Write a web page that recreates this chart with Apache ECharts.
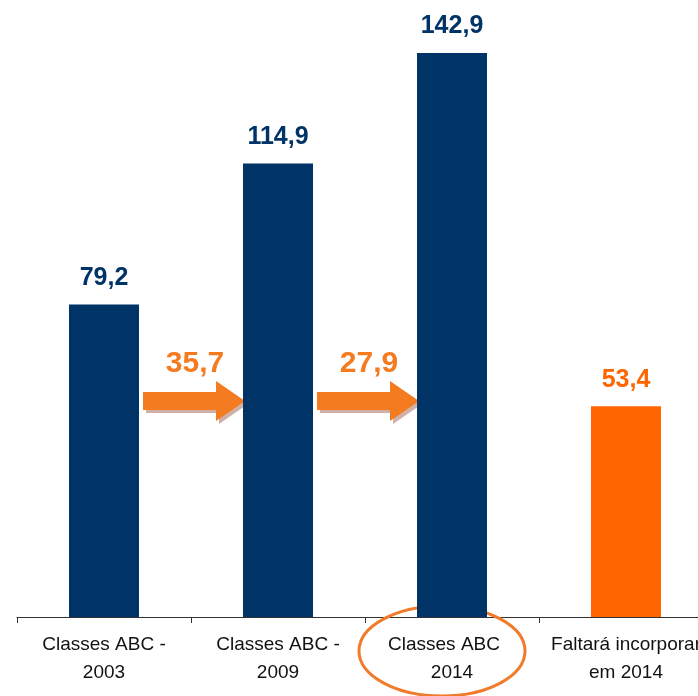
<!DOCTYPE html>
<html>
<head>
<meta charset="utf-8">
<script src="https://cdn.jsdelivr.net/npm/echarts@6/dist/echarts.min.js"></script>
<style>
  html, body { margin: 0; padding: 0; background: #fff; overflow: hidden; }
  /* o gráfico original continua além da borda direita da imagem */
  #chart { width: 713px; height: 696px; }
</style>
</head>
<body>
<div id="chart"></div>
<script>
// categorias e valores (milhões de pessoas)
var categories = ['Classes ABC -\n2003', 'Classes ABC -\n2009', 'Classes ABC -\n2014', 'Faltará incorporar\nem 2014']
var values = [79.2, 114.9, 142.9, 53.4]
var barColors = ['#003366', '#003366', '#003366', '#FF6600']
// acréscimos entre as barras (de i para i+1)
var gainFrom = [0, 1]
var gains = [35.7, 27.9]
// categoria destacada com a elipse
var highlighted = [2]

var ARROW = '#F47B20'

function fmt(v) {
  return String(v.toFixed(1)).replace('.', ',')
}

var chart = echarts.init(document.getElementById('chart'))

var option = {
  animation: false,
  grid: { left: 17, right: 0, top: 25, bottom: 79 },
  xAxis: {
    type: 'category',
    data: categories,
    axisLine: { lineStyle: { color: '#333', width: 1 } },
    axisTick: { show: true, length: 6, lineStyle: { color: '#333', width: 1 } },
    axisLabel: {
      interval: 0,
      margin: 14,
      color: '#111',
      fontFamily: 'Liberation Sans, Arial, sans-serif',
      fontSize: 19,
      lineHeight: 28,
      formatter: function (value, idx) {
        if (idx === 2) {
          // o traço fica escondido atrás da elipse no original
          var lines = value.split('\n')
          return '{cut|' + lines[0].replace(' -', '') + '}\n' + lines[1]
        }
        return value
      },
      rich: {
        cut: {
          fontFamily: 'Liberation Sans, Arial, sans-serif',
          fontSize: 19,
          lineHeight: 28,
          color: '#111',
          padding: [0, 16, 0, 0]
        }
      }
    }
  },
  yAxis: {
    type: 'value',
    min: 0,
    max: 150,
    show: false,
    splitLine: { show: false }
  },
  series: [
    {
      name: 'valores',
      type: 'bar',
      barWidth: 70,
      data: values.map(function (v, i) {
        return {
          value: v,
          itemStyle: { color: barColors[i] },
          label: { color: barColors[i] }
        }
      }),
      label: {
        show: true,
        position: 'top',
        distance: 14,
        fontFamily: 'Liberation Sans, Arial, sans-serif',
        fontWeight: 'bold',
        fontSize: 25,
        formatter: function (p) { return fmt(p.value) }
      }
    },
    {
      // setas laranja com o acréscimo
      name: 'acrescimo',
      type: 'custom',
      data: gainFrom.map(function (f, i) { return [f, gains[i]] }),
      renderItem: function (params, api) {
        var i = api.value(0)
        var gain = api.value(1)
        var c0 = api.coord([i, 0])
        var c1 = api.coord([i + 1, 0])
        var x0 = c0[0] + 39
        var x1 = c1[0] - 33
        var y = c0[1] - 216
        var headLen = 29
        var sh = 9
        var hh = 20
        var xh = x1 - headLen
        var pts = [
          [x0, y - sh], [xh, y - sh], [xh, y - hh], [x1, y],
          [xh, y + hh], [xh, y + sh], [x0, y + sh]
        ]
        return {
          type: 'group',
          children: [
            {
              type: 'polygon',
              shape: { points: pts.map(function (p) { return [p[0] + 3, p[1] + 3] }) },
              style: { fill: 'rgba(150,80,60,0.45)' }
            },
            {
              type: 'polygon',
              shape: { points: pts },
              style: { fill: ARROW }
            },
            {
              type: 'text',
              style: {
                text: fmt(gain),
                x: (x0 + x1) / 2 + 1,
                y: y - 37,
                align: 'center',
                verticalAlign: 'middle',
                fill: ARROW,
                font: 'bold 30px "Liberation Sans", Arial, sans-serif'
              }
            }
          ]
        }
      }
    },
    {
      // elipse de destaque
      name: 'destaque',
      type: 'custom',
      data: highlighted.map(function (h) { return [h, 0] }),
      renderItem: function (params, api) {
        var c = api.coord([api.value(0), 0])
        return {
          type: 'ellipse',
          shape: { cx: c[0] - 10, cy: c[1] + 34, rx: 83, ry: 45 },
          style: { fill: 'none', stroke: '#F07B2A', lineWidth: 3 }
        }
      }
    }
  ]
}

chart.setOption(option)
</script>
</body>
</html>
